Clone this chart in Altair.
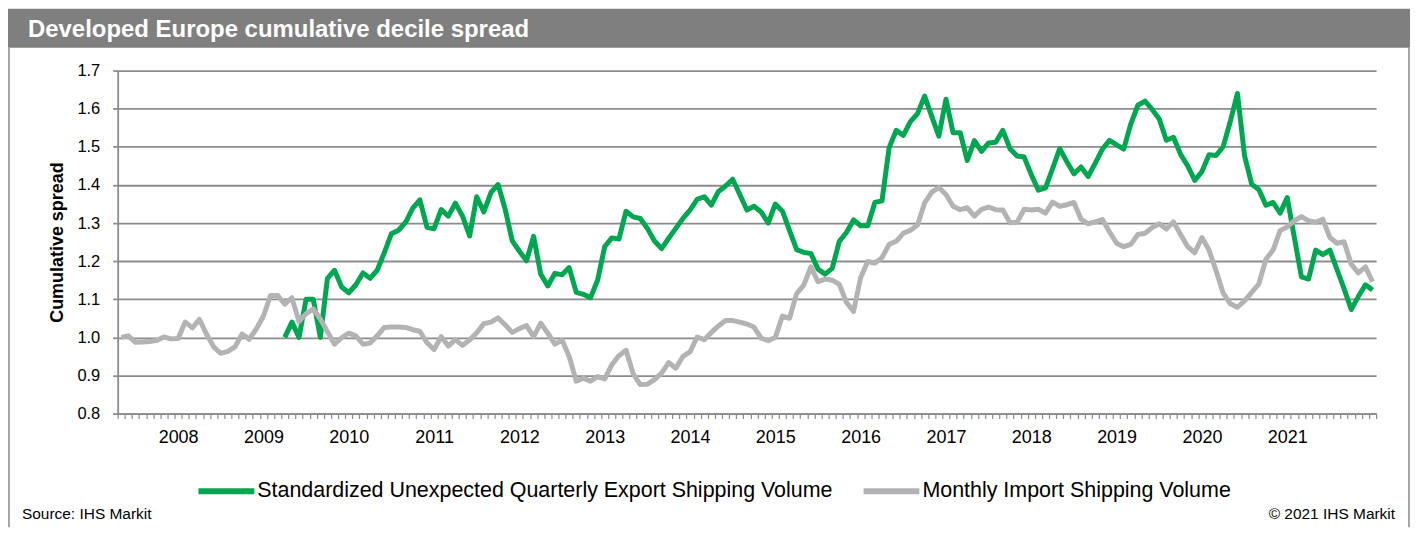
import json
import altair as alt
import pandas as pd

# ---- data (monthly, index 0 = May 2007) ----
series_names = [
    "Standardized Unexpected Quarterly Export Shipping Volume",
    "Monthly Import Shipping Volume",
]
series_colors = ["#00A650", "#B3B3B5"]

years = ["2008", "2009", "2010", "2011", "2012", "2013", "2014",
         "2015", "2016", "2017", "2018", "2019", "2020", "2021"]
first_jan_index = 8
n_months = 177

import_vals = [
    1.000, 1.004, 0.987, 0.988, 0.989, 0.992, 1.001, 0.996, 0.997, 1.040,
    1.025, 1.047, 1.008, 0.975, 0.958, 0.963, 0.975, 1.009, 0.995, 1.022,
    1.056, 1.110, 1.110, 1.087, 1.104, 1.042, 1.062, 1.075, 1.048, 1.015,
    0.982, 0.999, 1.011, 1.004, 0.982, 0.985, 1.004, 1.026, 1.027, 1.027,
    1.026, 1.020, 1.016, 0.986, 0.968, 1.002, 0.977, 0.994, 0.979, 0.993,
    1.012, 1.036, 1.040, 1.051, 1.033, 1.013, 1.023, 1.031, 1.002, 1.037,
    1.011, 0.982, 0.993, 0.950, 0.885, 0.893, 0.885, 0.897, 0.891, 0.928,
    0.952, 0.966, 0.905, 0.876, 0.877, 0.889, 0.906, 0.934, 0.919, 0.950,
    0.962, 1.001, 0.994, 1.013, 1.030, 1.044, 1.044, 1.040, 1.035, 1.027,
    0.998, 0.991, 1.000, 1.056, 1.050, 1.115, 1.137, 1.185, 1.146, 1.153,
    1.150, 1.139, 1.092, 1.068, 1.157, 1.199, 1.195, 1.209, 1.244, 1.252,
    1.273, 1.281, 1.295, 1.353, 1.381, 1.393, 1.375, 1.344, 1.335, 1.340,
    1.318, 1.336, 1.342, 1.335, 1.334, 1.301, 1.302, 1.336, 1.334, 1.336,
    1.326, 1.355, 1.344, 1.348, 1.354, 1.310, 1.298, 1.303, 1.309, 1.277,
    1.247, 1.238, 1.244, 1.270, 1.273, 1.288, 1.298, 1.284, 1.303, 1.270,
    1.238, 1.222, 1.262, 1.229, 1.174, 1.116, 1.088, 1.079, 1.096, 1.118,
    1.140, 1.205, 1.229, 1.280, 1.290, 1.306, 1.317, 1.306, 1.302, 1.310,
    1.262, 1.247, 1.251, 1.192, 1.169, 1.185, 1.146,
]

export_start_index = 23
export_vals = [
    1.000, 1.040, 1.000, 1.100, 1.100, 1.000, 1.155, 1.176, 1.132, 1.117,
    1.138, 1.169, 1.155, 1.176, 1.222, 1.272, 1.281, 1.302, 1.339, 1.361,
    1.289, 1.285, 1.335, 1.318, 1.352, 1.318, 1.266, 1.369, 1.329, 1.380,
    1.401, 1.336, 1.253, 1.226, 1.201, 1.265, 1.166, 1.135, 1.168, 1.164,
    1.183, 1.118, 1.113, 1.104, 1.150, 1.238, 1.261, 1.258, 1.331, 1.316,
    1.312, 1.286, 1.253, 1.233, 1.260, 1.286, 1.312, 1.334, 1.362, 1.369,
    1.347, 1.383, 1.397, 1.415, 1.375, 1.334, 1.344, 1.329, 1.300, 1.350,
    1.331, 1.280, 1.230, 1.223, 1.220, 1.179, 1.166, 1.181, 1.252, 1.275,
    1.308, 1.293, 1.293, 1.354, 1.358, 1.497, 1.543, 1.530, 1.566, 1.587,
    1.633, 1.580, 1.528, 1.625, 1.537, 1.537, 1.464, 1.516, 1.488, 1.510,
    1.512, 1.543, 1.495, 1.476, 1.473, 1.427, 1.386, 1.392, 1.443, 1.495,
    1.461, 1.429, 1.447, 1.422, 1.457, 1.494, 1.517, 1.505, 1.494, 1.560,
    1.609, 1.620, 1.598, 1.573, 1.517, 1.525, 1.480, 1.450, 1.412, 1.435,
    1.479, 1.477, 1.501, 1.567, 1.640, 1.476, 1.402, 1.388, 1.347, 1.354,
    1.326, 1.367, 1.262, 1.159, 1.153, 1.229, 1.217, 1.229, 1.178, 1.127,
    1.073, 1.107, 1.138, 1.124,
]

y_ticks = [0.8, 0.9, 1.0, 1.1, 1.2, 1.3, 1.4, 1.5, 1.6, 1.7]

title_text = "Developed Europe cumulative decile spread"
y_title = "Cumulative spread"
source_text = "Source: IHS Markit"
copyright_text = "© 2021 IHS Markit"

# ---- build long table ----
rows = []
for i, v in enumerate(export_vals):
    rows.append({"pos": export_start_index + i + 0.5, "value": v, "series": series_names[0], "order": 0})
for i, v in enumerate(import_vals):
    rows.append({"pos": i + 0.5, "value": v, "series": series_names[1], "order": 1})
df = pd.DataFrame(rows)

FONT = "Liberation Sans"
W, H = 1262, 344
GRID = "#8C8C8C"

last_label = first_jan_index + 12 * (len(years) - 1)
label_expr = (
    f"(datum.value >= {first_jan_index} && datum.value <= {last_label} && "
    f"(datum.value - {first_jan_index}) % 12 == 0) ? "
    f"{json.dumps(years)}[(datum.value - {first_jan_index}) / 12] : ''"
)

x_enc = alt.X(
    "pos:Q",
    scale=alt.Scale(domain=[0, n_months], nice=False, zero=False),
    axis=alt.Axis(
        values=list(range(n_months + 1)),
        labelExpr=label_expr,
        labelOffset=3.56,
        labelOverlap=False,
        labelFlush=False,
        labelFont=FONT,
        labelFontSize=18,
        labelColor="#000000",
        labelPadding=10,
        tickSize=5,
        tickColor=GRID,
        tickWidth=1.2,
        domainColor=GRID,
        domainWidth=1.8,
        grid=False,
        title=None,
    ),
)
y_enc = alt.Y(
    "value:Q",
    scale=alt.Scale(domain=[0.8, 1.7], nice=False, zero=False),
    axis=alt.Axis(
        values=y_ticks,
        format=".1f",
        labelFont=FONT,
        labelFontSize=16.5,
        labelColor="#000000",
        labelPadding=13,
        tickSize=5,
        tickColor=GRID,
        tickWidth=1.8,
        domainColor=GRID,
        domainWidth=1.8,
        grid=True,
        gridColor=GRID,
        gridWidth=1.8,
        title=y_title,
        titleFont=FONT,
        titleFontSize=18,
        titleFontWeight="bold",
        titleColor="#000000",
        titleX=-60,
        titleY=H / 2,
        titleAngle=270,
        titleAlign="center",
        titleBaseline="middle",
    ),
)

lines = alt.Chart(df).mark_line(strokeWidth=5, strokeJoin="round", strokeCap="butt").encode(
    x=x_enc,
    y=y_enc,
    color=alt.Color(
        "series:N",
        scale=alt.Scale(domain=series_names, range=series_colors),
        legend=alt.Legend(
            title=None,
            orient="none",
            legendX=78,
            legendY=391,
            direction="horizontal",
            symbolType="stroke",
            symbolSize=3136,
            symbolStrokeWidth=6,
            labelFont=FONT,
            labelFontSize=21.5,
            labelColor="#000000",
            labelLimit=900,
            labelOffset=0,
            columnPadding=18,
            padding=0,
        ),
    ),
    order=alt.Order("order:Q", sort="descending"),
)

one = pd.DataFrame({"k": [0]})

band = alt.Chart(one).mark_rect(color="#7F7F7F").encode(
    x=alt.value(-110), x2=alt.value(1296), y=alt.value(-62), y2=alt.value(-23)
)
left_border = alt.Chart(one).mark_rule(color="#A6A6A6", strokeWidth=2).encode(
    x=alt.value(-109), y=alt.value(-23), y2=alt.value(458)
)
right_border = alt.Chart(one).mark_rule(color="#A6A6A6", strokeWidth=2).encode(
    x=alt.value(1295), y=alt.value(-23), y2=alt.value(458)
)
title = alt.Chart(pd.DataFrame({"t": [title_text]})).mark_text(
    font=FONT, fontSize=24, fontWeight="bold", color="#FFFFFF", align="left", baseline="middle"
).encode(x=alt.value(-90), y=alt.value(-41), text="t:N")
source = alt.Chart(pd.DataFrame({"t": [source_text]})).mark_text(
    font=FONT, fontSize=15.5, color="#000000", align="left", baseline="middle"
).encode(x=alt.value(-96), y=alt.value(445), text="t:N")
copy_ = alt.Chart(pd.DataFrame({"t": [copyright_text]})).mark_text(
    font=FONT, fontSize=15.5, color="#000000", align="right", baseline="middle"
).encode(x=alt.value(1281), y=alt.value(445), text="t:N")

chart = (
    alt.layer(band, left_border, right_border, title, lines, source, copy_)
    .properties(width=W, height=H, padding=0, background="#FFFFFF")
    .configure_view(stroke="transparent")
)

chart.save("out.html", embed_options={"renderer": "svg", "actions": False})
